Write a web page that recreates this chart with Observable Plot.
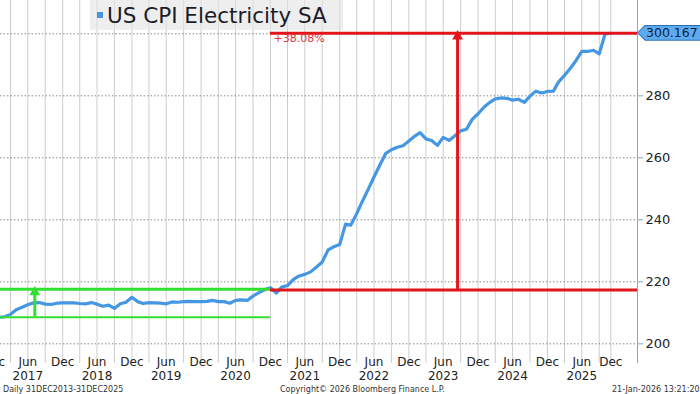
<!DOCTYPE html>
<html><head><meta charset="utf-8">
<script src="https://cdn.jsdelivr.net/npm/d3@7"></script>
<script src="https://cdn.jsdelivr.net/npm/@observablehq/plot@0.6"></script>
<style>
html,body{margin:0;padding:0;background:#fff;}
body{font-family:"DejaVu Sans",Verdana,sans-serif;}
#wrap{position:relative;width:700px;height:394px;overflow:hidden;}
#wrap svg{display:block;}
#legend{position:absolute;left:90px;top:0;width:253px;height:30px;background:rgba(228,228,228,0.62);}
#legend .sq{position:absolute;left:7px;top:12px;width:6px;height:6px;background:#4597e3;}
#legend .tx{position:absolute;left:17px;top:2px;font-size:21.5px;line-height:28px;color:#1c1c28;white-space:nowrap;}
#tag{position:absolute;left:637px;width:63px;height:16px;background:#2b6fb6;clip-path:polygon(0 50%,8px 0,100% 0,100% 100%,8px 100%);}
#tag .in{position:absolute;left:1px;top:1px;right:0;bottom:1px;background:#5eaaee;clip-path:polygon(0 50%,7.5px 0,100% 0,100% 100%,7.5px 100%);}
#tag .tx{position:absolute;left:9px;top:0;font-size:12.5px;line-height:16px;color:#0b1f44;white-space:nowrap;}
.foot{position:absolute;top:386px;font-size:8px;line-height:8px;color:#333;white-space:nowrap;}
</style>
</head><body>
<div id="wrap"></div>
<script>
// ---- data ----
const years = [2017, 2018, 2019, 2020, 2021, 2022, 2023, 2024, 2025];
const v2017 = [208.5, 208.6, 208.7, 209.5, 211.0, 211.8, 212.6, 213.2, 213.3, 212.8, 212.7, 213.1];
const v2018 = [213.2, 213.2, 213.2, 213.0, 212.9, 213.3, 212.8, 212.1, 212.5, 211.4, 212.9, 213.4];
const v2019 = [215.0, 213.6, 213.0, 213.3, 213.2, 213.1, 212.9, 213.5, 213.4, 213.6, 213.7, 213.6];
const v2020 = [213.6, 213.7, 214.0, 213.6, 213.6, 213.1, 214.0, 214.2, 214.0, 215.4, 216.5, 217.4];
const v2021 = [218.1, 216.4, 218.3, 218.8, 220.7, 221.9, 222.4, 223.2, 224.8, 226.4, 230.3, 231.3];
const v2022 = [232.0, 238.6, 238.3, 242.0, 246.0, 249.9, 253.8, 257.7, 261.4, 262.6, 263.4, 263.9];
const v2023 = [265.4, 267.0, 268.1, 266.1, 265.6, 264.0, 266.6, 265.6, 267.1, 268.7, 269.2, 272.4];
const v2024 = [274.2, 276.3, 277.8, 279.0, 279.3, 279.2, 278.6, 278.9, 277.9, 279.9, 281.5, 280.9];
const v2025 = [281.4, 281.5, 284.5, 286.6, 288.8, 291.4, 294.3, 294.3, 294.7, 293.5, 300.0, 300.167];
const seriesByYear = [v2017, v2018, v2019, v2020, v2021, v2022, v2023, v2024, v2025];

const yTicks = [200, 220, 240, 260, 280, 300];
const yTickLabels = ["200", "220", "240", "260", "280", ""]; // 300 is hidden behind the last-value tag
const tickDates = ["2017-01-01","2017-07-01","2018-01-01","2018-07-01","2019-01-01","2019-07-01","2020-01-01","2020-07-01",
  "2021-01-01","2021-07-01","2022-01-01","2022-07-01","2023-01-01","2023-07-01","2024-01-01","2024-07-01","2025-01-01","2025-07-01","2025-12-01"];
const tickLabels = ["Dec","Jun","Dec","Jun","Dec","Jun","Dec","Jun","Dec","Jun","Dec","Jun","Dec","Jun","Dec","Jun","Dec","Jun","Dec"];
const yearDates = ["2017-07-01","2018-07-01","2019-07-01","2020-07-01","2021-07-01","2022-07-01","2023-07-01","2024-07-01","2025-07-01"];
const yearLabels = ["2017","2018","2019","2020","2021","2022","2023","2024","2025"];
const gridDates = ["2017-04-01","2017-07-01","2017-10-01","2018-01-01","2018-04-01","2018-07-01","2018-10-01",
  "2019-01-01","2019-04-01","2019-07-01","2019-10-01","2020-01-01","2020-04-01","2020-07-01","2020-10-01",
  "2021-01-01","2021-04-01","2021-07-01","2021-10-01","2022-01-01","2022-04-01","2022-07-01","2022-10-01",
  "2023-01-01","2023-04-01","2023-07-01","2023-10-01","2024-01-01","2024-04-01","2024-07-01","2024-10-01",
  "2025-01-01","2025-04-01","2025-07-01","2025-10-01","2025-12-01"];

// annotations
const lastValue = 300.167;
const baseValue = 217.39;        // +38.08% base
const greenLow = 208.6;
const greenHigh = 217.6;
const pctLabel = "+38.08%";
const splitDate = "2021-01-01";
const redArrowDate = "2023-09-15";
const greenArrowDate = "2017-08-07";
const titleText = "US CPI Electricity SA";
const footLeft = "Daily 31DEC2013-31DEC2025";
const footMid = "Copyright\u00A9 2026 Bloomberg Finance L.P.";
const footRight = "21-Jan-2026 13:21:20";

// ---- build ----
const D = s => new Date(s + "T00:00:00Z");
const data = [];
years.forEach((y, yi) => seriesByYear[yi].forEach((v, m) => data.push({date: new Date(Date.UTC(y, m, 1)), value: v})));
const xDomain = [D("2017-02-07"), D("2026-04-21")];
const yDomain = [193.65, 310.74];
const ticks = tickDates.map((d, i) => ({date: D(d), label: tickLabels[i]}));
const yrs = yearDates.map((d, i) => ({date: D(d), label: yearLabels[i]}));
const yLab = yTicks.map((v, i) => ({v, label: yTickLabels[i]}));

const RED = "#e2141c", GREEN = "#30e030", BLUE = "#4597e3";

const chart = Plot.plot({
  width: 700, height: 394,
  marginLeft: 0, marginRight: 63, marginTop: 0, marginBottom: 31,
  x: {type: "utc", domain: xDomain, axis: null},
  y: {domain: yDomain, axis: null},
  style: {fontFamily: "DejaVu Sans", background: "white", overflow: "visible"},
  marks: [
    Plot.ruleX(gridDates.map(D), {stroke: "#cdcdcd", strokeWidth: 1}),
    Plot.gridY(yTicks, {stroke: "#8a8a8a", strokeOpacity: 1, strokeDasharray: "1.5,2"}),
    Plot.ruleX([xDomain[1]], {stroke: "#7fa6cf", strokeWidth: 1}),
    Plot.axisY(yTicks, {anchor: "right", tickSize: 5, tickPadding: 3, stroke: "#7fa6cf", tickFormat: () => ""}),
    Plot.text(yLab, {y: "v", text: "label", frameAnchor: "right", dx: 8, textAnchor: "start", fontSize: 13, fill: "#222"}),
    Plot.lineY(data, {x: "date", y: "value", stroke: BLUE, strokeWidth: 3.2, clip: true, strokeLinejoin: "round"}),
    // green band
    Plot.ruleY([greenHigh], {x1: xDomain[0], x2: D(splitDate), stroke: GREEN, strokeWidth: 3}),
    Plot.ruleY([greenLow], {x1: xDomain[0], x2: D(splitDate), stroke: GREEN, strokeWidth: 2}),
    Plot.ruleX([D(greenArrowDate)], {y1: greenLow, y2: greenHigh, stroke: GREEN, strokeWidth: 3}),
    Plot.dot([{x: D(greenArrowDate), y: greenHigh}], {x: "x", y: "y", symbol: "triangle", r: 4, fill: GREEN, stroke: null, dy: 3}),
    // red annotation
    Plot.ruleY([baseValue, lastValue], {x1: D(splitDate), x2: xDomain[1], stroke: RED, strokeWidth: 3}),
    Plot.ruleX([D(redArrowDate)], {y1: baseValue, y2: lastValue, stroke: RED, strokeWidth: 3}),
    Plot.dot([{x: D(redArrowDate), y: lastValue}], {x: "x", y: "y", symbol: "triangle", r: 4, fill: RED, stroke: null, dy: 3}),
    Plot.text([pctLabel], {x: D(splitDate), y: lastValue, text: d => d, dx: 3, dy: 5, textAnchor: "start", fill: "#e0333b", fontSize: 11}),
    // x labels
    Plot.text(ticks, {x: "date", text: "label", frameAnchor: "bottom", dy: 2.5, fontSize: 12, fill: "#222"}),
    Plot.text(yrs, {x: "date", text: "label", frameAnchor: "bottom", dy: 16.5, fontSize: 12, fill: "#222"})
  ]
});

const wrap = document.getElementById("wrap");
wrap.appendChild(chart);

const legend = document.createElement("div");
legend.id = "legend";
legend.innerHTML = `<div class="sq"></div><div class="tx"></div>`;
legend.querySelector(".tx").textContent = titleText;
wrap.appendChild(legend);

const yPix = chart.scale("y").apply(lastValue);
const tag = document.createElement("div");
tag.id = "tag";
tag.style.top = (yPix - 8) + "px";
tag.innerHTML = `<div class="in"></div><div class="tx"></div>`;
tag.querySelector(".tx").textContent = String(lastValue);
wrap.appendChild(tag);

[[footLeft, 3], [footMid, 280], [footRight, 612]].forEach(([t, x]) => {
  const f = document.createElement("div");
  f.className = "foot"; f.style.left = x + "px"; f.textContent = t;
  wrap.appendChild(f);
});
</script>
</body></html>
